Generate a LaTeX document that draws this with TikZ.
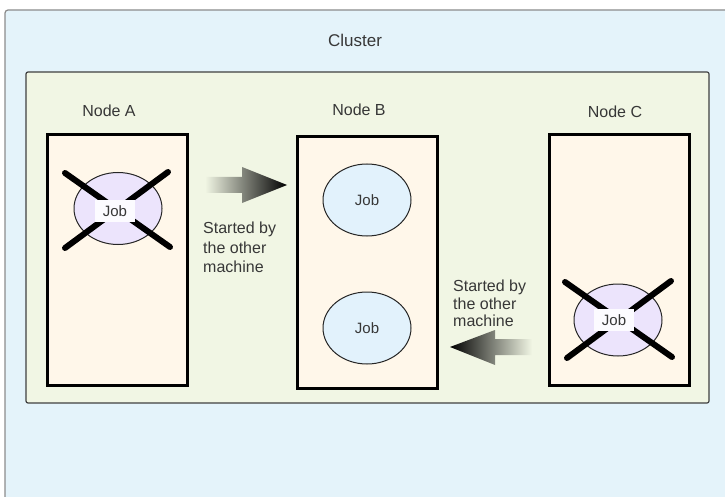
\documentclass[tikz,border=0pt]{standalone}
\usepackage{fontspec}
\setmainfont{Liberation Sans}
\usetikzlibrary{shapes.geometric}
\definecolor{clusterbg}{RGB}{228,243,250}
\definecolor{innerbg}{RGB}{241,246,228}
\definecolor{boxbg}{RGB}{255,247,234}
\definecolor{jobbg}{RGB}{226,242,252}
\definecolor{deadbg}{RGB}{236,228,252}
\definecolor{txt}{RGB}{55,55,55}

\begin{document}
\begin{tikzpicture}[x=1pt,y=-1pt,
  machine/.style={rectangle,draw=black,line width=3pt,fill=boxbg,minimum width=140pt,minimum height=251pt,inner sep=0pt},
  job/.style={ellipse,draw=black!85,line width=1pt,minimum width=88pt,minimum height=72pt,inner sep=0pt,text=txt,font=\fontsize{15}{18}\selectfont},
  deadjob/.style={job,fill=deadbg},
  joblabel/.style={fill=white!85!deadbg,minimum width=40pt,minimum height=22pt,inner sep=0pt,text=txt,font=\fontsize{15}{18}\selectfont},
  cross/.style={line width=6pt,line cap=round},
  title/.style={text=txt,font=\fontsize{16}{19}\selectfont}]
\useasboundingbox (0,0) rectangle (725,497);
\clip (0,0) rectangle (725,497);
\fill[white] (0,0) rectangle (725,497);
\draw[draw=black!45,line width=1.2pt,fill=clusterbg,rounded corners=3pt] (5,10) rectangle (745,520);
\path (355,40) node[title,font=\fontsize{17}{20}\selectfont] (cl) {Cluster};
\draw[draw=black!75,line width=1.2pt,fill=innerbg,rounded corners=2pt] (26,72) rectangle (709,403);

% machines
\path (117.5,260) node[machine] (nA) {};
\path (367.5,262.5) node[machine] (nB) {};
\path (619,260) node[machine] (nC) {};
\path (109,111) node[title] (tA) {Node A};
\path (359,110) node[title] (tB) {Node B};
\path (615,112) node[title] (tC) {Node C};

% jobs
\path (118,208.5) node[deadjob] (jA) {};
\draw[cross] (65,173) -- (170,247);
\draw[cross] (168,172) -- (65,248);
\path (115,211) node[joblabel] (lA) {Job};

\path (367,200) node[job,fill=jobbg] (jB1) {Job};
\path (367,328) node[job,fill=jobbg] (jB2) {Job};

\path (618,320) node[deadjob] (jC) {};
\draw[cross] (565,282) -- (672,357);
\draw[cross] (671,281) -- (567,358);
\path (614,320) node[joblabel] (lC) {Job};

% moves
\shade[left color=innerbg,right color=black] (205,177) -- (242,177) -- (242,167) -- (287,185) -- (242,203) -- (242,193) -- (205,193) -- cycle;
\path (203,222) node[anchor=north west,inner sep=0pt,align=left,text=txt,font=\fontsize{16}{19.5}\selectfont] (sA) {Started by\\the other\\machine};
\shade[left color=black,right color=innerbg] (450,347) -- (495,330) -- (495,339) -- (532,339) -- (532,355) -- (495,355) -- (495,365) -- cycle;
\path (453,280) node[anchor=north west,inner sep=0pt,align=left,text=txt,font=\fontsize{16}{17.5}\selectfont] (sC) {Started by\\the other\\machine};
\end{tikzpicture}
\end{document}
